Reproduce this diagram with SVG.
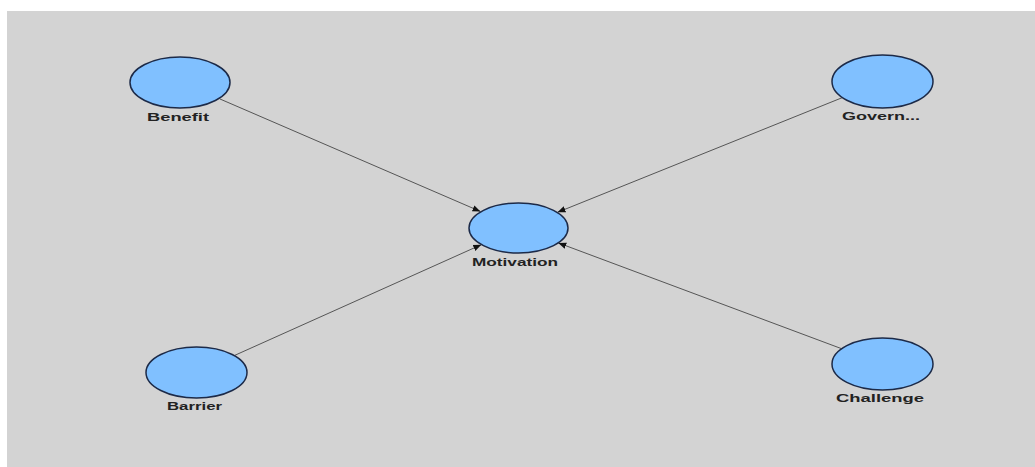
<svg xmlns="http://www.w3.org/2000/svg" width="1035" height="467" viewBox="0 0 1035 467">
<style>
.node{fill:#80c0ff;stroke:#1c2a48;stroke-width:1.5}
.lbl{font-family:"Liberation Sans",Arial,sans-serif;font-size:11px;font-weight:bold;fill:#222;text-anchor:middle}
.edge{stroke:#555;stroke-width:1;fill:none;marker-end:url(#arr)}
</style>
<defs>
<marker id="arr" viewBox="0 0 10 10" refX="10" refY="5" markerWidth="8" markerHeight="8" markerUnits="userSpaceOnUse" orient="auto">
<path d="M0,1 L10,5 L0,9 z" fill="#111"/>
</marker>
</defs>
<rect x="0" y="0" width="1035" height="467" fill="#fff"/>
<rect x="7" y="11" width="1028" height="456" fill="#d3d3d3"/>
<g id="connectors">
<line class="edge" x1="220" y1="99" x2="480.5" y2="211.5"/>
<line class="edge" x1="842.4" y1="97.6" x2="557.5" y2="212.3"/>
<line class="edge" x1="234.2" y1="355.6" x2="481.3" y2="244.7"/>
<line class="edge" x1="841.6" y1="348.7" x2="558.3" y2="242.9"/>
</g>
<g id="benefit">
<ellipse class="node" cx="180" cy="82.5" rx="50" ry="25.5"/>
<text class="lbl" x="178" y="121" textLength="62" lengthAdjust="spacingAndGlyphs">Benefit</text>
</g>
<g id="motivation">
<ellipse class="node" cx="518.5" cy="228" rx="49.5" ry="25"/>
<text class="lbl" x="515" y="266" textLength="86" lengthAdjust="spacingAndGlyphs">Motivation</text>
</g>
<g id="govern">
<ellipse class="node" cx="882.5" cy="81.5" rx="50.5" ry="26.5"/>
<text class="lbl" x="881" y="120" textLength="78" lengthAdjust="spacingAndGlyphs">Govern...</text>
</g>
<g id="barrier">
<ellipse class="node" cx="196.5" cy="372.5" rx="50.5" ry="25.5"/>
<text class="lbl" x="194.5" y="410" textLength="55" lengthAdjust="spacingAndGlyphs">Barrier</text>
</g>
<g id="challenge">
<ellipse class="node" cx="882.5" cy="364" rx="50.5" ry="26"/>
<text class="lbl" x="880" y="402" textLength="88" lengthAdjust="spacingAndGlyphs">Challenge</text>
</g>
</svg>
